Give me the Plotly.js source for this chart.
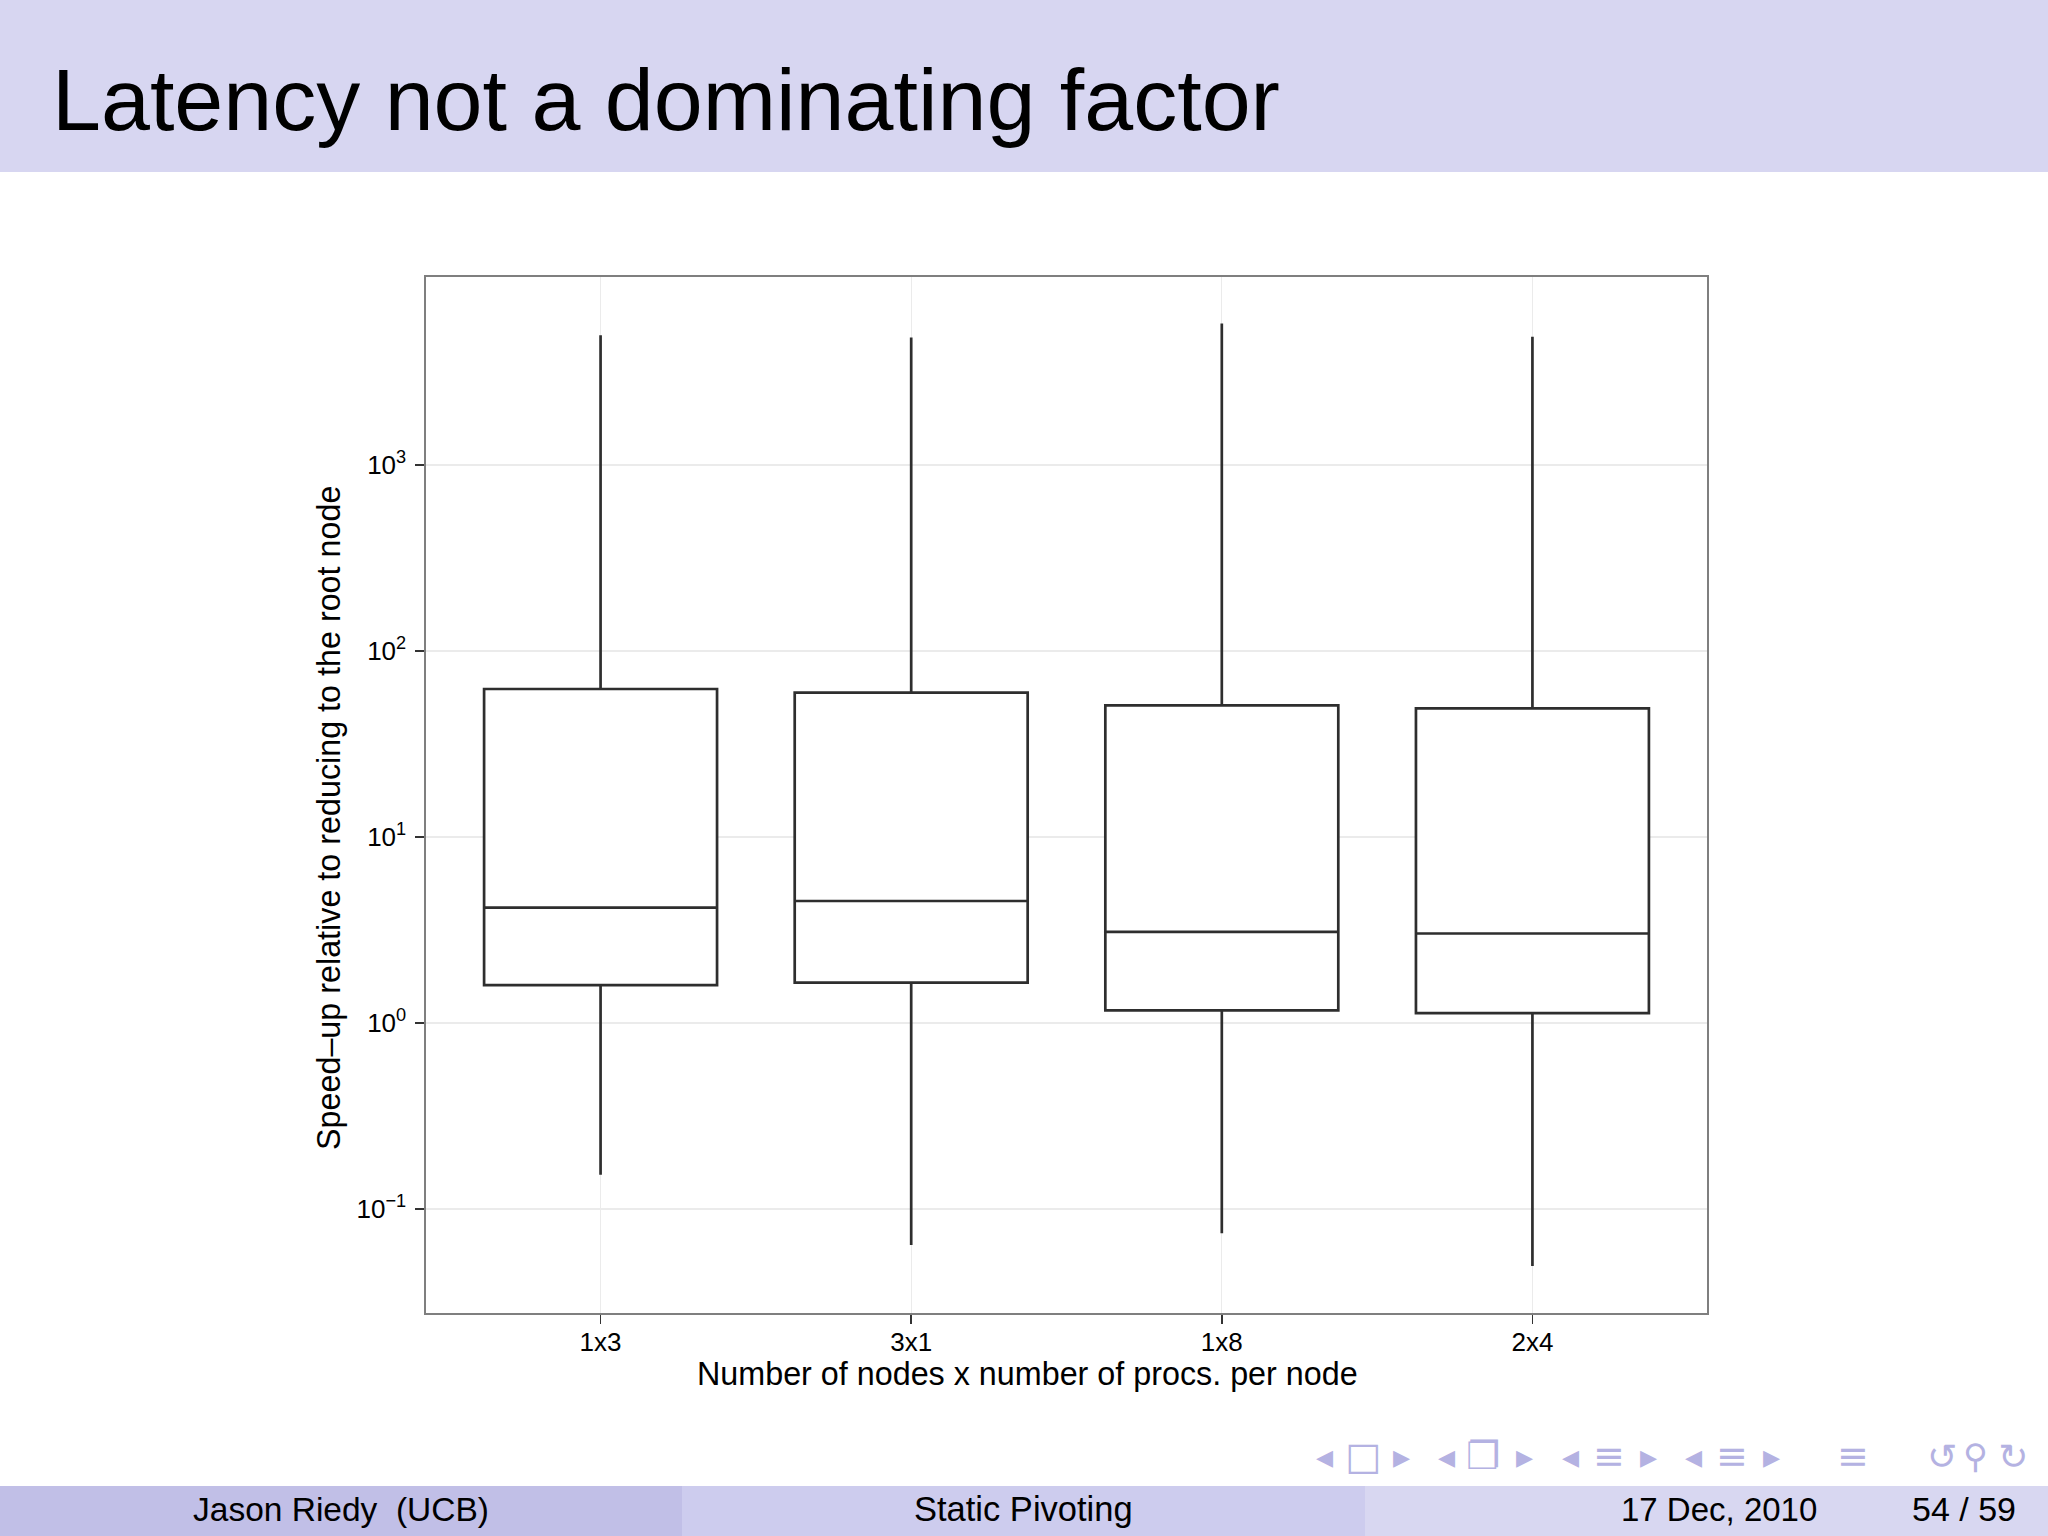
<!DOCTYPE html>
<html>
<head>
<meta charset="utf-8">
<script src="https://cdn.plot.ly/plotly-3.0.1.min.js"></script>
<style>
  html, body { margin: 0; padding: 0; background: #ffffff; }
  #chart { width: 2048px; height: 1536px; }
</style>
</head>
<body>
<div id="chart"></div>
<script>
// ---- data ----
const categories   = ['1x3', '3x1', '1x8', '2x4'];
const lowerWhisker = [0.153, 0.064, 0.074, 0.0494];
const q1           = [1.60, 1.65, 1.17, 1.13];
const median       = [4.17, 4.53, 3.09, 3.03];
const q3           = [62.5, 59.8, 51.0, 49.2];
const upperWhisker = [4990, 4853, 5770, 4890];

const yTickValues = [0.1, 1, 10, 100, 1000];
const yTickLabels = ['10<sup>\u22121</sup>', '10<sup>0</sup>', '10<sup>1</sup>', '10<sup>2</sup>', '10<sup>3</sup>'];

const slideTitle   = 'Latency not a dominating factor';
const xAxisTitle   = 'Number of nodes x number of procs. per node';
const yAxisTitle   = 'Speed\u2013up relative to reducing to the root node';
const footerAuthor = 'Jason Riedy\u00a0\u00a0(UCB)';
const footerTalk   = 'Static Pivoting';
const footerDate   = '17 Dec, 2010';
const footerPage   = '54\u00a0/\u00a059';

// ---- page geometry helpers (pixels -> paper coords) ----
const FW = 2048, FH = 1536;
const L = 426, R = 1707, T = 277, B = 1313;
const PW = R - L, PH = B - T;
const px = x => (x - L) / PW;
const py = y => (B - y) / PH;

const FONT = 'Liberation Sans, Arial, Helvetica, sans-serif';
const SLIDE_FONT = 'Liberation Sans, Arial, sans-serif';
const NAV = '#b4b2e2';

const trace = {
  type: 'box',
  x: categories,
  q1: q1,
  median: median,
  q3: q3,
  lowerfence: lowerWhisker,
  upperfence: upperWhisker,
  boxpoints: false,
  fillcolor: '#ffffff',
  line: { color: '#2e2e2e', width: 2.7 },
  whiskerwidth: 0,
  showlegend: false,
  hoverinfo: 'skip'
};

function ann(text, x, y, size, opts) {
  return Object.assign({
    text: text, xref: 'paper', yref: 'paper', x: px(x), y: py(y),
    showarrow: false, xanchor: 'center', yanchor: 'middle',
    font: { family: SLIDE_FONT, size: size, color: '#000000' }
  }, opts || {});
}

const navItems = [
  ['\u25C2', 1324, 34], ['\u25A1', 1363, 38], ['\u25B8', 1401, 34],
  ['\u25C2', 1446, 34], ['\u2750', 1483, 38], ['\u25B8', 1524, 34],
  ['\u25C2', 1570, 34], ['\u2261', 1609, 38], ['\u25B8', 1648, 34],
  ['\u25C2', 1693, 34], ['\u2261', 1732, 38], ['\u25B8', 1771, 34],
  ['\u2261', 1853, 38],
  ['\u21BA', 1942, 36], ['\u26B2', 1975, 34], ['\u21BB', 2013, 36]
];

const annotations = [
  ann(slideTitle, 50, 100, 88, { xanchor: 'left' }),
  ann(yAxisTitle, 329, 818, 32.3, { textangle: -90, font: { family: FONT, size: 32.3, color: '#000000' } }),
  ann(xAxisTitle, 1027, 1374, 32.3, { font: { family: FONT, size: 32.3, color: '#000000' } }),
  ann(footerAuthor, 341, 1509, 33.5),
  ann(footerTalk, 1023, 1509, 34.5),
  ann(footerDate, 1819, 1509, 33),
  ann(footerPage, 2018, 1509, 34)
].map(a => {
  if (a.text === footerDate || a.text === footerPage) a.xanchor = 'right';
  return a;
}).concat(navItems.map(n => ann(n[0], n[1], 1456, n[2], {
  font: { family: 'DejaVu Sans, sans-serif', size: n[2], color: NAV }
})));

const shapes = [
  { type: 'rect', xref: 'paper', yref: 'paper', x0: px(0), x1: px(FW), y0: py(172), y1: py(0),
    fillcolor: '#d7d6f1', line: { width: 0 }, layer: 'below' },
  { type: 'rect', xref: 'paper', yref: 'paper', x0: px(0), x1: px(682), y0: py(FH), y1: py(1486),
    fillcolor: '#c1bfe7', line: { width: 0 }, layer: 'below' },
  { type: 'rect', xref: 'paper', yref: 'paper', x0: px(682), x1: px(1365), y0: py(FH), y1: py(1486),
    fillcolor: '#cdccee', line: { width: 0 }, layer: 'below' },
  { type: 'rect', xref: 'paper', yref: 'paper', x0: px(1365), x1: px(FW), y0: py(FH), y1: py(1486),
    fillcolor: '#d8d7f1', line: { width: 0 }, layer: 'below' }
];

const layout = {
  width: FW, height: FH,
  margin: { l: L, r: FW - R, t: T, b: FH - B, pad: 0 },
  paper_bgcolor: '#ffffff',
  plot_bgcolor: '#ffffff',
  showlegend: false,
  boxgap: 0.25,
  boxgroupgap: 0,
  font: { family: FONT, color: '#000000' },
  xaxis: {
    type: 'category',
    range: [-0.562, 3.562],
    showgrid: true, gridcolor: '#ebebeb', gridwidth: 1.3,
    zeroline: false,
    showline: true, mirror: true, linecolor: '#7f7f7f', linewidth: 1.6,
    ticks: 'outside', ticklen: 9, tickwidth: 1.4, tickcolor: '#333333',
    tickfont: { family: FONT, size: 26, color: '#000000' },
    ticklabelstandoff: -4
  },
  yaxis: {
    type: 'log',
    range: [-1.559, 4.011],
    tickmode: 'array', tickvals: yTickValues, ticktext: yTickLabels,
    showgrid: true, gridcolor: '#ebebeb', gridwidth: 1.3,
    zeroline: false,
    showline: true, mirror: true, linecolor: '#7f7f7f', linewidth: 1.6,
    ticks: 'outside', ticklen: 9, tickwidth: 1.4, tickcolor: '#333333',
    tickfont: { family: FONT, size: 26, color: '#000000' },
    ticklabelstandoff: 4
  },
  shapes: shapes,
  annotations: annotations
};

Plotly.newPlot('chart', [trace], layout, { staticPlot: true, displayModeBar: false });
</script>
</body>
</html>
